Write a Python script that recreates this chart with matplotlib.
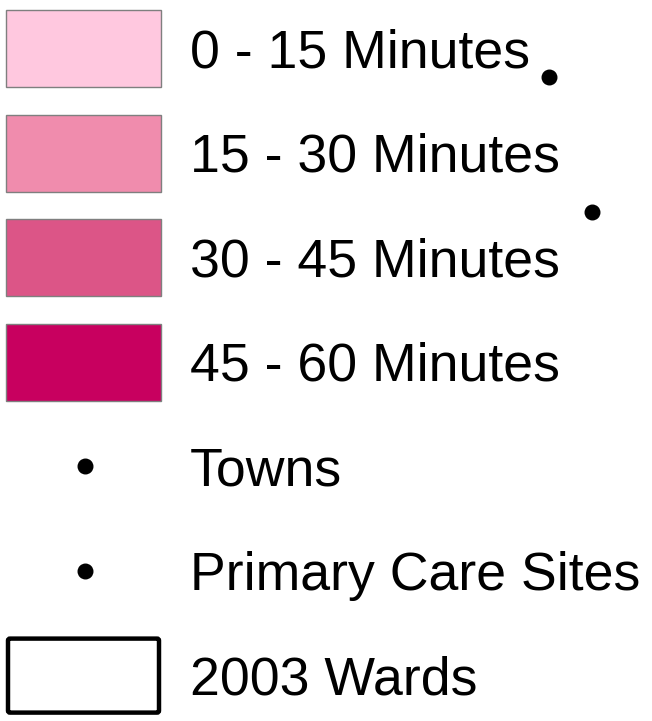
import matplotlib
matplotlib.use('Agg')
from matplotlib import pyplot as plt
from matplotlib.patches import Rectangle, FancyBboxPatch

# legend entries
labels = ['0 - 15 Minutes', '15 - 30 Minutes', '30 - 45 Minutes', '45 - 60 Minutes',
          'Towns', 'Primary Care Sites', '2003 Wards']
kinds = ['fill', 'fill', 'fill', 'fill', 'dot', 'dot', 'outline']
fill_colors = ['#FFC8DF', '#F08CAD', '#DC5587', '#C8005F']

# stray points sitting next to the legend text
stray_x = [549, 592]
stray_y = [77, 212]

plt.rcParams['font.family'] = ['Liberation Sans', 'DejaVu Sans']

fig = plt.figure(figsize=(6.52, 7.21), dpi=100)
ax = fig.add_axes([0, 0, 1, 1])
ax.set_xlim(0, 652)
ax.set_ylim(721, 0)
ax.axis('off')

row_h = 104.6
top = 48
for i, (lab, kind) in enumerate(zip(labels, kinds)):
    cy = top + i * row_h
    if kind == 'fill':
        ax.add_patch(Rectangle((6, cy - 38), 155, 77, facecolor=fill_colors[i],
                               edgecolor='#7f7f7f', linewidth=1.0))
    elif kind == 'dot':
        ax.scatter([85], [cy], s=110, color='black', zorder=3)
    else:
        ax.add_patch(FancyBboxPatch((8, cy - 37), 151, 74, boxstyle='round,pad=0,rounding_size=2',
                                    facecolor='white', edgecolor='black', linewidth=3.2))
    ax.text(190, cy + 19, lab, fontsize=38.6, va='baseline', ha='left', color='black')

ax.scatter(stray_x, stray_y, s=110, color='black', zorder=3)

plt.savefig('out.png', dpi=100)
